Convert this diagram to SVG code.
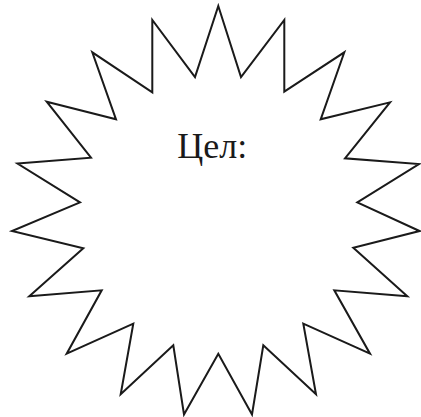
<svg xmlns="http://www.w3.org/2000/svg" width="421" height="417" viewBox="0 0 421 417">
<style>
.star{fill:#fff;stroke:#1a1a1a;stroke-width:2;stroke-linejoin:miter;stroke-miterlimit:12}
.lbl{font-family:"Liberation Serif","Times New Roman",serif;font-size:36px;fill:#1a1a1a}
</style>
<rect width="421" height="417" fill="#fff"/>
<g id="star">
<polygon class="star" points="218.3,6 241,77 284.3,20 284.3,91.7 344.3,52.3 320.7,119.3 390,102.3 345,158.3 419,164 357.3,202.3 419.5,231 353.3,247.7 407.3,296.3 334.3,290.3 370,353.7 303.3,323.7 316,394.3 263.3,345.3 252,414.5 218.3,353.7 184,414.5 173.3,345.3 120.7,394.3 133.3,323.7 66.7,353.7 101.7,290.3 29.3,296.3 83.3,248.3 12,231 80,202.3 17.5,163.5 91,157.7 46.7,101.7 116,119.3 92.3,52.3 152.3,92.3 152.3,20 195,77"/>
<text class="lbl" x="212.2" y="157.5" text-anchor="middle">Цел:</text>
</g>
</svg>
